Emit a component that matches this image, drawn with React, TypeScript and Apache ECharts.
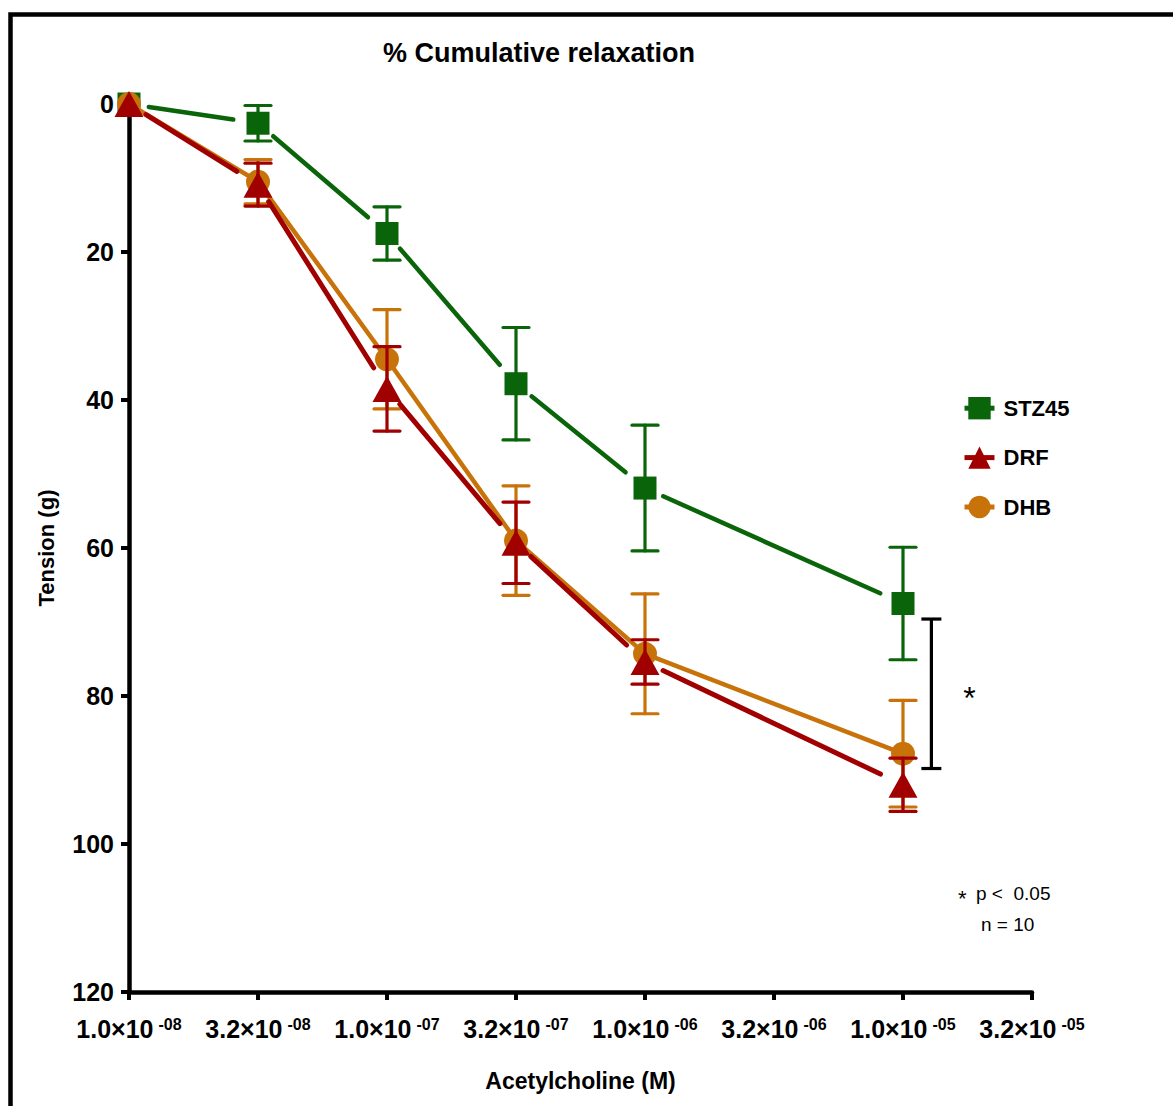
import React, { useEffect, useRef } from "react";
import * as echarts from "echarts";

// log10 of acetylcholine concentration (M)
const logDose = [-8, -7.5, -7, -6.5, -6, -5];

const stzMean = [0, 2.6, 17.5, 37.8, 51.9, 67.5];
const stzSem = [0, 2.4, 3.6, 7.6, 8.5, 7.6];
const drfMean = [0, 10.9, 38.5, 59.3, 75.4, 92.0];
const drfSem = [0, 2.9, 5.7, 5.5, 3.0, 3.6];
const dhbMean = [0, 10.5, 34.5, 59.0, 74.3, 87.8];
const dhbSem = [0, 3.0, 6.7, 7.4, 8.1, 7.2];

const xTickBase = ["1.0×10", "3.2×10", "1.0×10", "3.2×10", "1.0×10", "3.2×10", "1.0×10", "3.2×10"];
const xTickExp = ["-08", "-08", "-07", "-07", "-06", "-06", "-05", "-05"];

// significance bracket: [x (log dose), y from, y to]
const sigBracket = [-4.89, 69.6, 89.8];

const FONT = "Liberation Sans, Arial, sans-serif";
const GREEN = "#0a640a";
const RED = "#a00000";
const ORANGE = "#c8720a";

function segments(mean: number[]) {
  const out: number[][] = [];
  for (let i = 0; i < logDose.length - 1; i++) {
    out.push([logDose[i], mean[i], logDose[i + 1], mean[i + 1]]);
  }
  return out;
}

function segSeries(name: string, mean: number[], color: string, gapStart: number, gapEnd: number, width: number, z: number) {
  return {
    type: "custom",
    id: name + "-seg",
    z,
    clip: false,
    silent: true,
    data: segments(mean),
    encode: { x: [0, 2], y: [1, 3] },
    renderItem: (params: any, api: any) => {
      const p1 = api.coord([api.value(0), api.value(1)]);
      const p2 = api.coord([api.value(2), api.value(3)]);
      const dx = p2[0] - p1[0];
      const dy = p2[1] - p1[1];
      const len = Math.sqrt(dx * dx + dy * dy) || 1;
      const ux = dx / len;
      const uy = dy / len;
      return {
        type: "line",
        shape: {
          x1: p1[0] + ux * gapStart,
          y1: p1[1] + uy * gapStart,
          x2: p2[0] - ux * gapEnd,
          y2: p2[1] - uy * gapEnd,
        },
        style: { stroke: color, lineWidth: width, lineCap: "round" },
      };
    },
  };
}

function errSeries(name: string, mean: number[], sem: number[], color: string, z: number) {
  return {
    type: "custom",
    id: name + "-err",
    z,
    clip: false,
    silent: true,
    data: logDose.map((x, i) => [x, mean[i], sem[i]]),
    encode: { x: 0, y: 1 },
    renderItem: (params: any, api: any) => {
      const x = api.value(0);
      const m = api.value(1);
      const s = api.value(2);
      if (!s) return { type: "group", children: [] };
      const top = api.coord([x, m - s]);
      const bot = api.coord([x, m + s]);
      const hw = 13;
      const st = { stroke: color, lineWidth: 3.2, lineCap: "round" };
      return {
        type: "group",
        children: [
          { type: "line", shape: { x1: top[0], y1: top[1], x2: bot[0], y2: bot[1] }, style: st },
          { type: "line", shape: { x1: top[0] - hw, y1: top[1], x2: top[0] + hw, y2: top[1] }, style: st },
          { type: "line", shape: { x1: bot[0] - hw, y1: bot[1], x2: bot[0] + hw, y2: bot[1] }, style: st },
        ],
      };
    },
  };
}

function markerSeries(name: string, mean: number[], color: string, symbol: string, size: any, z: number) {
  return {
    type: "line",
    name,
    z,
    clip: false,
    silent: true,
    symbol,
    symbolSize: size,
    showAllSymbol: true,
    itemStyle: { color, opacity: 1 },
    lineStyle: { color, width: 4, opacity: 0 },
    data: logDose.map((x, i) => [x, mean[i]]),
  };
}

export default function App() {
  const ref = useRef<HTMLDivElement>(null);
  useEffect(() => {
    if (!ref.current) return;
    const chart = echarts.init(ref.current, null, { renderer: "svg" });
    const option: any = {
      animation: false,
      backgroundColor: "#ffffff",
      textStyle: { fontFamily: FONT },
      title: {
        text: "% Cumulative relaxation",
        left: 378,
        top: 34,
        textStyle: { fontFamily: FONT, fontSize: 27, fontWeight: "bold", color: "#000" },
      },
      grid: { left: 129, top: 104, width: 903, height: 888, containLabel: false },
      legend: {
        orient: "vertical",
        left: 957,
        top: 392,
        itemWidth: 30,
        itemHeight: 28,
        itemGap: 27,
        selectedMode: false,
        lineStyle: { width: 5, opacity: 1 },
        textStyle: { fontFamily: FONT, fontSize: 22, fontWeight: "bold", color: "#000", padding: [0, 0, 0, 4] },
        data: ["STZ45", "DRF", "DHB"],
      },
      xAxis: {
        type: "value",
        min: -8,
        max: -4.5,
        interval: 0.5,
        name: "Acetylcholine (M)",
        nameLocation: "middle",
        nameGap: 77,
        nameTextStyle: { fontFamily: FONT, fontSize: 23, fontWeight: "bold", color: "#000" },
        splitLine: { show: false },
        axisLine: { onZero: false, lineStyle: { color: "#000", width: 4.5 } },
        axisTick: { show: true, length: 8, lineStyle: { color: "#000", width: 4 } },
        axisLabel: {
          margin: 24,
          showMinLabel: true,
          showMaxLabel: true,
          formatter: (v: number) => {
            const i = Math.round((v + 8) * 2);
            return "{b|" + xTickBase[i] + "}{s|" + xTickExp[i] + "}";
          },
          rich: {
            b: { fontFamily: FONT, fontSize: 25, fontWeight: "bold", color: "#000", lineHeight: 26 },
            s: { fontFamily: FONT, fontSize: 16, fontWeight: "bold", color: "#000", verticalAlign: "top", padding: [0, 0, 0, 5], lineHeight: 26 },
          },
        },
      },
      yAxis: {
        type: "value",
        inverse: true,
        min: 0,
        max: 120,
        interval: 20,
        name: "Tension (g)",
        nameLocation: "middle",
        nameGap: 72,
        nameTextStyle: { fontFamily: FONT, fontSize: 22, fontWeight: "bold", color: "#000" },
        splitLine: { show: false },
        axisLine: { show: true, lineStyle: { color: "#000", width: 4.5 } },
        axisTick: { show: true, length: 8, lineStyle: { color: "#000", width: 4 } },
        axisLabel: { margin: 15, fontFamily: FONT, fontSize: 25, fontWeight: "bold", color: "#000" },
      },
      graphic: [
        {
          type: "rect",
          shape: { x: 10.5, y: 14.5, width: 1400, height: 1400 },
          style: { fill: "none", stroke: "#000", lineWidth: 4.5 },
          z: 100,
          silent: true,
        },
        {
          type: "text",
          x: 958,
          y: 887,
          style: { text: "*", fontFamily: FONT, fontSize: 22, fill: "#000" },
          silent: true,
        },
        {
          type: "text",
          x: 976,
          y: 884,
          style: { text: "p <  0.05", fontFamily: FONT, fontSize: 19, fill: "#000" },
          silent: true,
        },
        {
          type: "text",
          x: 981,
          y: 915,
          style: { text: "n = 10", fontFamily: FONT, fontSize: 19, fill: "#000" },
          silent: true,
        },
      ],
      series: [
        segSeries("STZ45", stzMean, GREEN, 20, 25, 4.5, 2),
        errSeries("STZ45", stzMean, stzSem, GREEN, 3),
        markerSeries("STZ45", stzMean, GREEN, "rect", 23, 4),
        segSeries("DHB", dhbMean, ORANGE, 0, 0, 4.5, 5),
        errSeries("DHB", dhbMean, dhbSem, ORANGE, 6),
        markerSeries("DHB", dhbMean, ORANGE, "circle", 24, 7),
        segSeries("DRF", drfMean, RED, 20, 25, 5, 8),
        errSeries("DRF", drfMean, drfSem, RED, 9),
        markerSeries("DRF", drfMean, RED, "triangle", [29, 26], 10),
        {
          type: "custom",
          id: "sig",
          z: 11,
          clip: false,
          silent: true,
          data: [sigBracket],
          encode: { x: 0, y: [1, 2] },
          renderItem: (params: any, api: any) => {
            const a = api.coord([api.value(0), api.value(1)]);
            const b = api.coord([api.value(0), api.value(2)]);
            const hw = 10;
            const st = { stroke: "#000", lineWidth: 3.2 };
            return {
              type: "group",
              children: [
                { type: "line", shape: { x1: a[0], y1: a[1], x2: b[0], y2: b[1] }, style: st },
                { type: "line", shape: { x1: a[0] - hw, y1: a[1], x2: a[0] + hw, y2: a[1] }, style: st },
                { type: "line", shape: { x1: b[0] - hw, y1: b[1], x2: b[0] + hw, y2: b[1] }, style: st },
                {
                  type: "text",
                  x: a[0] + 38,
                  y: (a[1] + b[1]) / 2 + 4,
                  style: { text: "*", fontFamily: FONT, fontSize: 32, fill: "#000", align: "center", verticalAlign: "middle" },
                },
              ],
            };
          },
        },
      ],
    };
    chart.setOption(option);
    return () => chart.dispose();
  }, []);
  return (
    <div
      ref={ref}
      style={{ position: "fixed", left: 0, top: 0, width: 1173, height: 1106, background: "#fff" }}
    />
  );
}
